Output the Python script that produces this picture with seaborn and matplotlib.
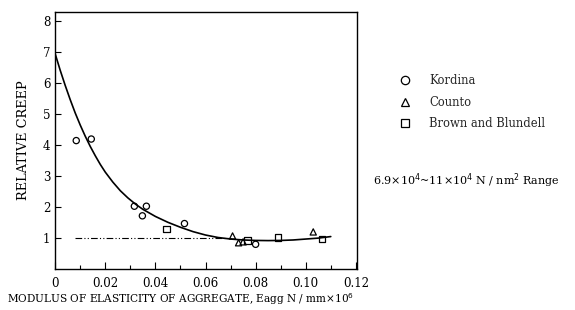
import matplotlib
matplotlib.use("Agg")
import matplotlib.pyplot as plt
import seaborn as sns
import pandas as pd
from matplotlib.lines import Line2D

# measured points
kordina_x = [0.0084, 0.0144, 0.0316, 0.0348, 0.0364, 0.0516, 0.0800]
kordina_y = [4.15, 4.20, 2.03, 1.72, 2.03, 1.47, 0.80]
counto_x = [0.0708, 0.0732, 0.0750, 0.1030]
counto_y = [1.07, 0.85, 0.88, 1.20]
brown_x = [0.0444, 0.0768, 0.0888, 0.1064]
brown_y = [1.30, 0.92, 1.02, 0.97]

# fitted curve
curve_x = [0.000, 0.002, 0.004, 0.006, 0.008, 0.010, 0.012, 0.014, 0.016,
           0.018, 0.020, 0.023, 0.026, 0.029, 0.032, 0.035, 0.040, 0.045,
           0.050, 0.055, 0.060, 0.065, 0.070, 0.075, 0.080, 0.085, 0.090,
           0.095, 0.100, 0.105, 0.110]
curve_y = [6.95, 6.42, 5.93, 5.47, 5.04, 4.65, 4.29, 3.96, 3.66,
           3.38, 3.13, 2.81, 2.53, 2.30, 2.10, 1.93, 1.70, 1.51,
           1.35, 1.21, 1.10, 1.02, 0.97, 0.94, 0.925, 0.92, 0.925,
           0.94, 0.97, 1.00, 1.05]

ref_x = [0.008, 0.070]
ref_y = [1.0, 1.0]

xticks = [0, 0.02, 0.04, 0.06, 0.08, 0.10, 0.12]
xtick_labels = ["0", "0.02", "0.04", "0.06", "0.08", "0.10", "0.12"]
yticks = [1, 2, 3, 4, 5, 6, 7, 8]

sns.set_theme(style="white")
plt.rcParams["font.family"] = ["DejaVu Serif"]

fig = plt.figure(figsize=(5.75, 3.1), dpi=100)
ax = fig.add_axes([0.096, 0.132, 0.525, 0.829])

pts = pd.DataFrame({
    "x": kordina_x + counto_x + brown_x,
    "y": kordina_y + counto_y + brown_y,
    "src": ["Kordina"] * len(kordina_x) + ["Counto"] * len(counto_x)
           + ["Brown and Blundell"] * len(brown_x),
})
markers = {"Kordina": "o", "Counto": "^", "Brown and Blundell": "s"}

sns.lineplot(x=ref_x, y=ref_y, ax=ax, color="black", lw=0.8,
             linestyle=(0, (6, 2, 1, 2, 1, 2)))
sns.lineplot(x=curve_x, y=curve_y, ax=ax, color="black", lw=1.2)
sns.scatterplot(data=pts, x="x", y="y", style="src", markers=markers,
                ax=ax, s=20, facecolor="none", edgecolor="black",
                linewidth=0.9, legend=False)

ax.set_xlim(0, 0.1205)
ax.set_ylim(0, 8.3)
ax.set_xticks(xticks, xtick_labels)
ax.set_xticks([0.01, 0.03, 0.05, 0.07, 0.09, 0.11], minor=True)
ax.set_yticks(yticks)
ax.tick_params(axis="both", which="both", direction="in", color="black",
               labelsize=8.5, labelcolor="black")
ax.tick_params(axis="x", which="major", length=5, width=0.8, bottom=True,
               pad=6)
ax.tick_params(axis="x", which="minor", length=3, width=0.8, bottom=True)
ax.tick_params(axis="y", length=4, width=0.8, left=True)
for s in ax.spines.values():
    s.set_color("black")
    s.set_linewidth(1.0)

ax.set_ylabel("RELATIVE CREEP", fontsize=9.3, color="black", labelpad=9)
ax.set_xlabel("MODULUS OF ELASTICITY OF AGGREGATE, Eagg N / mm×10$^6$",
              fontsize=7.6, color="black")
ax.xaxis.set_label_coords(0.417, -0.088)

handles = [Line2D([], [], marker=markers[k], ls="none", mfc="none",
                  mec="black", ms=6, mew=0.9, label=k) for k in markers]
fig.legend(handles=handles, loc="upper left", bbox_to_anchor=(0.666, 0.795),
           frameon=False, fontsize=8.3, handletextpad=1.1, labelspacing=0.75)

fig.text(0.648, 0.405, "6.9×10$^4$~11×10$^4$ N / nm$^2$ Range",
         fontsize=8, color="black")

fig.savefig("out.png", dpi=100)
